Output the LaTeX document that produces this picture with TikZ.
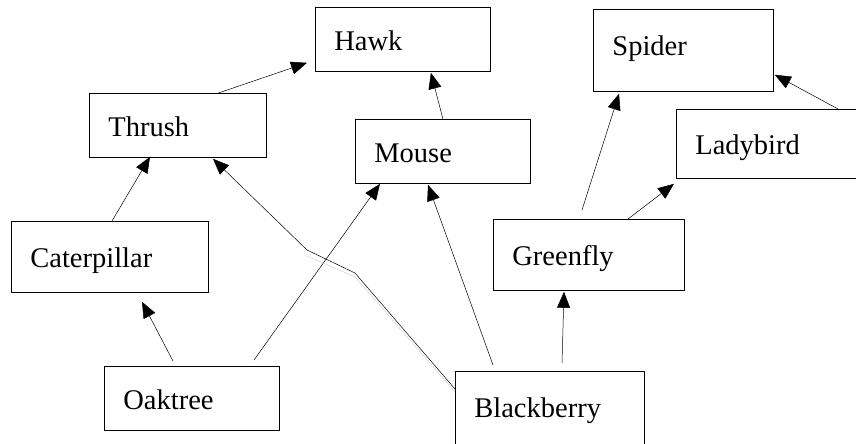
\documentclass[tikz,border=0pt]{standalone}
\usepackage{fontspec}
\setmainfont{Liberation Serif}
\usetikzlibrary{arrows.meta}
\begin{document}
\begin{tikzpicture}[x=1pt,y=-1pt,box/.style={draw,rectangle,anchor=north west,inner xsep=19pt,inner ysep=0pt,align=left,font=\fontsize{28.5}{30}\selectfont,text height=22.8pt,text depth=0.9pt,line width=0.8pt},link/.style={line width=0.5pt,-{Triangle[length=16pt,width=13pt]}},shadow/.style={line width=0.5pt,gray!35}]
		
		\useasboundingbox (0,0) rectangle (856,444);
		\clip (0,0) rectangle (856,444);
		
		\node[box,text width=137pt,minimum height=64pt] (hawk) at (315,7) {Hawk};
		\node[box,text width=142pt,minimum height=82pt,text depth=12.8pt] (spider) at (593,9) {Spider};
		\node[box,text width=139pt,minimum height=64pt] (thrush) at (89,93) {Thrush};
		\node[box,text width=137pt,minimum height=64pt] (mouse) at (355,119) {Mouse};
		\node[box,text width=156pt,minimum height=69pt] (ladybird) at (676,109) {Ladybird};
		\node[box,text width=159pt,minimum height=71pt] (caterpillar) at (11,221) {Caterpillar};
		\node[box,text width=153pt,minimum height=71pt] (greenfly) at (493,219) {Greenfly};
		\node[box,text width=137pt,minimum height=64pt] (oaktree) at (104,366) {Oaktree};
		\node[box,text width=151pt,minimum height=80pt,text depth=10.8pt] (blackberry) at (455,371) {Blackberry};
		
		\coordinate (bend1) at (355,273);
		\coordinate (bend2) at (307,250);
		
		\draw[link] ([xshift=40.5pt]thrush.north) -- ([xshift=-8pt,yshift=9pt]hawk.south west);
		\draw[link] (mouse.north) -- ([xshift=28pt,yshift=-1pt]hawk.south);
		\draw[link] ([xshift=162pt]ladybird.north west) -- ([xshift=1pt,yshift=17pt]spider.south east);
		\draw[link] ([xshift=89pt,yshift=9pt]greenfly.north west) -- ([xshift=26pt,yshift=-2pt]spider.south west);
		\draw[link] ([xshift=135pt]greenfly.north west) -- ([xshift=-2pt,yshift=-5pt]ladybird.south west);
		\draw[link] ([xshift=107pt,yshift=8pt]blackberry.north west) -- ([xshift=71pt,yshift=-1pt]greenfly.south west);
		\draw[link] ([xshift=38pt,yshift=6pt]blackberry.north west) -- ([xshift=73pt,yshift=-1pt]mouse.south west);
		\draw[link] ([xshift=150pt,yshift=6pt]oaktree.north west) -- ([xshift=25pt]mouse.south west);
		\draw[link] ([xshift=69pt,yshift=5pt]oaktree.north west) -- ([xshift=131pt,yshift=-9pt]caterpillar.south west);
		\draw[link] ([xshift=101pt]caterpillar.north west) -- ([xshift=61pt,yshift=1pt]thrush.south west);
		\draw[shadow] ([yshift=-21pt]blackberry.north west) -- ([yshift=-4pt]bend1) -- ([yshift=-6pt]bend2);
		\draw[link] ([yshift=-18pt]blackberry.north west) -- (bend1) -- (bend2) -- ([xshift=124pt,yshift=-1pt]thrush.south west);
		\end{tikzpicture}
\end{document}
